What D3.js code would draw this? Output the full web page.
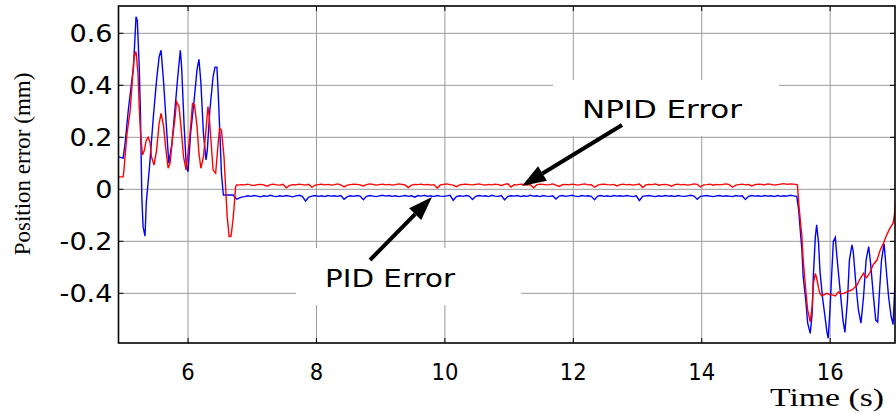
<!DOCTYPE html>
<html lang="en">
<head>
<meta charset="UTF-8">
<title>Position error: NPID vs PID</title>
<script src="https://d3js.org/d3.v7.min.js"></script>
<style>
  body { margin: 0; background: #fff; }
  svg { display: block; }
</style>
</head>
<body>
<svg id="chart" width="896" height="413"></svg>
<script>
// ---- data (time in s, error in mm) ----
const xTicks = [6, 8, 10, 12, 14, 16];
const yTicks = [-0.4, -0.2, 0, 0.2, 0.4, 0.6];

// transient at the start
const npidStart = [[4.92,0.048],[4.99,0.048],[5.00,0.07],[5.05,0.215],[5.10,0.305],[5.13,0.41],[5.16,0.51],[5.19,0.53],[5.22,0.446],[5.24,0.318],[5.26,0.215],[5.29,0.132],[5.32,0.15],[5.35,0.19],[5.38,0.2],[5.41,0.178],[5.43,0.125],[5.47,0.093],[5.51,0.15],[5.55,0.254],[5.58,0.292],[5.62,0.241],[5.65,0.164],[5.69,0.081],[5.72,0.10],[5.76,0.2],[5.80,0.28],[5.82,0.337],[5.86,0.318],[5.89,0.241],[5.93,0.125],[5.97,0.074],[6.00,0.138],[6.04,0.241],[6.07,0.33],[6.10,0.325],[6.14,0.241],[6.17,0.138],[6.20,0.081],[6.24,0.125],[6.28,0.228],[6.31,0.318],[6.33,0.28],[6.36,0.178],[6.39,0.074],[6.43,0.062],[6.46,0.15],[6.49,0.235],[6.52,0.228],[6.56,0.125],[6.59,-0.015],[6.61,-0.105],[6.64,-0.182],[6.67,-0.18],[6.70,-0.118],[6.72,-0.06],[6.74,0.01],[6.76,0.017]];
const pidStart = [[4.92,0.125],[4.99,0.12],[5.02,0.178],[5.07,0.305],[5.12,0.41],[5.15,0.47],[5.19,0.664],[5.21,0.65],[5.24,0.47],[5.26,0.28],[5.28,-0.03],[5.30,-0.145],[5.33,-0.18],[5.35,-0.05],[5.40,0.087],[5.46,0.28],[5.51,0.42],[5.55,0.51],[5.58,0.535],[5.62,0.41],[5.67,0.215],[5.70,0.10],[5.75,0.178],[5.80,0.318],[5.84,0.433],[5.88,0.535],[5.90,0.47],[5.94,0.24],[5.97,0.10],[6.00,0.068],[6.04,0.215],[6.10,0.356],[6.14,0.46],[6.17,0.50],[6.20,0.41],[6.24,0.215],[6.28,0.113],[6.30,0.15],[6.34,0.305],[6.39,0.433],[6.42,0.47],[6.45,0.47],[6.47,0.37],[6.50,0.19],[6.52,0.062],[6.55,-0.022],[6.60,-0.022],[6.70,-0.022],[6.76,-0.038]];

// steady part, sampled every 0.05 s from 6.78 s to 15.48 s
const flatT0 = 6.78, flatDt = 0.05;
const npidFlat = [
  0.016,0.018,0.017,0.020,0.016,0.015,0.018,0.019,0.017,0.012,0.018,0.020,0.017,0.016,0.019,
  0.006,0.015,0.018,0.017,0.020,0.018,0.016,0.019,0.008,0.016,0.018,0.020,0.017,0.019,0.016,
  0.018,0.021,0.017,0.009,0.016,0.018,0.020,0.019,0.017,0.013,0.018,0.021,0.019,0.016,0.018,
  0.020,0.017,0.019,0.016,0.018,0.021,0.019,0.017,0.007,0.016,0.019,0.018,0.020,0.017,0.019,
  0.016,0.018,0.005,0.017,0.019,0.021,0.018,0.016,0.010,0.017,0.019,0.020,0.018,0.017,0.019,
  0.021,0.018,0.016,0.019,0.017,0.020,0.018,0.015,0.019,0.021,0.009,0.018,0.017,0.020,0.019,
  0.016,0.018,0.006,0.017,0.020,0.019,0.017,0.018,0.021,0.016,0.011,0.018,0.019,0.017,0.020,
  0.018,0.016,0.019,0.021,0.017,0.018,0.008,0.016,0.019,0.020,0.018,0.017,0.019,0.013,0.018,
  0.020,0.017,0.019,0.016,0.018,0.020,0.007,0.017,0.019,0.018,0.021,0.016,0.018,0.019,0.017,
  0.012,0.018,0.020,0.017,0.019,0.016,0.018,0.021,0.019,0.009,0.017,0.018,0.020,0.016,0.019,
  0.017,0.019,0.021,0.018,0.008,0.016,0.018,0.020,0.017,0.019,0.013,0.018,0.020,0.019,0.017,
  0.021,0.019,0.016,0.018,0.020,0.022,0.019,0.021,0.020,0.018];
const pidFlat = [
  -0.036,-0.030,-0.028,-0.025,-0.027,-0.024,-0.026,-0.029,-0.025,-0.027,-0.023,-0.026,-0.028,-0.025,-0.027,
  -0.024,-0.026,-0.029,-0.025,-0.023,-0.027,-0.045,-0.030,-0.026,-0.024,-0.027,-0.025,-0.028,-0.024,-0.026,
  -0.025,-0.027,-0.024,-0.038,-0.028,-0.025,-0.027,-0.024,-0.026,-0.040,-0.027,-0.024,-0.026,-0.028,-0.025,
  -0.023,-0.026,-0.024,-0.027,-0.025,-0.028,-0.026,-0.024,-0.027,-0.025,-0.030,-0.024,-0.026,-0.023,-0.027,
  -0.025,-0.028,-0.024,-0.026,-0.027,-0.025,-0.023,-0.042,-0.028,-0.025,-0.027,-0.024,-0.026,-0.039,-0.027,
  -0.024,-0.026,-0.025,-0.028,-0.023,-0.026,-0.027,-0.024,-0.041,-0.027,-0.025,-0.026,-0.024,-0.028,-0.025,
  -0.027,-0.023,-0.026,-0.025,-0.028,-0.024,-0.026,-0.027,-0.025,-0.037,-0.026,-0.024,-0.027,-0.025,-0.023,
  -0.026,-0.028,-0.024,-0.026,-0.025,-0.027,-0.040,-0.026,-0.024,-0.027,-0.025,-0.028,-0.024,-0.026,-0.025,
  -0.027,-0.024,-0.026,-0.028,-0.025,-0.043,-0.027,-0.025,-0.024,-0.026,-0.028,-0.025,-0.027,-0.024,-0.026,
  -0.025,-0.028,-0.024,-0.026,-0.027,-0.025,-0.023,-0.026,-0.038,-0.027,-0.025,-0.024,-0.026,-0.028,-0.025,
  -0.024,-0.027,-0.025,-0.026,-0.028,-0.024,-0.026,-0.025,-0.039,-0.027,-0.024,-0.026,-0.025,-0.027,-0.024,
  -0.026,-0.025,-0.028,-0.024,-0.027,-0.025,-0.026,-0.023,-0.025,-0.027];

// transient at the end
const npidEnd = [[15.49,0.017],[15.52,-0.08],[15.56,-0.18],[15.58,-0.27],[15.62,-0.387],[15.65,-0.465],[15.69,-0.51],[15.72,-0.45],[15.74,-0.362],[15.77,-0.323],[15.79,-0.342],[15.82,-0.38],[15.84,-0.40],[15.87,-0.41],[15.90,-0.406],[15.95,-0.40],[15.99,-0.405],[16.03,-0.406],[16.08,-0.41],[16.13,-0.395],[16.17,-0.402],[16.21,-0.40],[16.26,-0.394],[16.30,-0.39],[16.34,-0.387],[16.38,-0.378],[16.42,-0.368],[16.47,-0.342],[16.52,-0.323],[16.55,-0.335],[16.57,-0.34],[16.62,-0.32],[16.67,-0.29],[16.73,-0.272],[16.78,-0.233],[16.83,-0.208],[16.88,-0.176],[16.93,-0.15],[16.98,-0.13],[17.0,-0.10],[17.02,-0.04]];
const pidEnd = [[15.51,-0.08],[15.53,-0.144],[15.56,-0.233],[15.58,-0.336],[15.62,-0.426],[15.65,-0.515],[15.69,-0.554],[15.72,-0.477],[15.74,-0.323],[15.77,-0.182],[15.79,-0.137],[15.82,-0.208],[15.84,-0.31],[15.88,-0.413],[15.92,-0.49],[15.95,-0.548],[15.97,-0.573],[16.00,-0.45],[16.03,-0.298],[16.05,-0.2],[16.08,-0.185],[16.11,-0.272],[16.16,-0.40],[16.20,-0.503],[16.23,-0.55],[16.27,-0.426],[16.30,-0.272],[16.34,-0.214],[16.36,-0.24],[16.40,-0.362],[16.44,-0.464],[16.48,-0.515],[16.52,-0.413],[16.56,-0.272],[16.60,-0.22],[16.63,-0.285],[16.67,-0.40],[16.71,-0.503],[16.74,-0.51],[16.77,-0.387],[16.80,-0.272],[16.84,-0.21],[16.87,-0.298],[16.91,-0.413],[16.95,-0.49],[16.98,-0.52],[17.00,-0.413],[17.02,-0.33]];

const npid = npidStart.concat(npidFlat.map((v, i) => [flatT0 + i * flatDt, v]), npidEnd);
const pid = pidStart.concat(pidFlat.map((v, i) => [flatT0 + i * flatDt, v]), pidEnd);

// ---- layout ----
const svg = d3.select("#chart");
const margin = { top: 6, right: 1, bottom: 70, left: 118.5 };
const width = 896 - margin.left - margin.right,
      height = 413 - margin.top - margin.bottom;

const x = d3.scaleLinear().domain([4.917, 17.01]).range([0, width]);
const y = d3.scaleLinear().domain([-0.591, 0.705]).range([height, 0]);

const g = svg.append("g").attr("transform", `translate(${margin.left},${margin.top})`);

// grid
g.selectAll(".gx").data(xTicks).enter().append("line")
  .attr("x1", d => x(d)).attr("x2", d => x(d))
  .attr("y1", 0).attr("y2", height)
  .attr("stroke", "#9a9a9a").attr("stroke-width", 1);
g.selectAll(".gy").data(yTicks).enter().append("line")
  .attr("x1", 0).attr("x2", width)
  .attr("y1", d => y(d)).attr("y2", d => y(d))
  .attr("stroke", "#9a9a9a").attr("stroke-width", 1);

// white label boxes that hide the grid
g.append("rect").attr("x", 553 - margin.left).attr("y", 80 - margin.top)
  .attr("width", 226).attr("height", 56).attr("fill", "#fff");
g.append("rect").attr("x", 296 - margin.left).attr("y", 248 - margin.top)
  .attr("width", 225).attr("height", 57).attr("fill", "#fff");

// inward tick marks on all sides
const tl = 5;
xTicks.forEach(d => {
  g.append("line").attr("x1", x(d)).attr("x2", x(d)).attr("y1", height).attr("y2", height - tl).attr("stroke", "#000");
  g.append("line").attr("x1", x(d)).attr("x2", x(d)).attr("y1", 0).attr("y2", tl).attr("stroke", "#000");
});
yTicks.forEach(d => {
  g.append("line").attr("x1", 0).attr("x2", tl).attr("y1", y(d)).attr("y2", y(d)).attr("stroke", "#000");
  g.append("line").attr("x1", width).attr("x2", width - tl).attr("y1", y(d)).attr("y2", y(d)).attr("stroke", "#000");
});

// lines
g.append("clipPath").attr("id", "clip").append("rect")
  .attr("width", width).attr("height", height);

const line = d3.line().x(d => x(d[0])).y(d => y(d[1]));

g.append("path").datum(pid)
  .attr("clip-path", "url(#clip)")
  .attr("fill", "none").attr("stroke", "#0000ff").attr("stroke-width", 1.4)
  .attr("d", line);
g.append("path").datum(npid)
  .attr("clip-path", "url(#clip)")
  .attr("fill", "none").attr("stroke", "#ff0000").attr("stroke-width", 1.4)
  .attr("d", line);

// frame
g.append("rect").attr("width", width).attr("height", height)
  .attr("fill", "none").attr("stroke", "#000").attr("stroke-width", 1.6);

// tick labels
const fmt = d => d === 0 ? "0" : d3.format(".1f")(d).replace("\u2212", "-");
g.selectAll(".yl").data(yTicks).enter().append("text")
  .attr("transform", d => `translate(-6,${y(d)}) scale(1.13,1)`)
  .attr("text-anchor", "end").attr("dy", "0.36em")
  .style("font-family", "DejaVu Sans").style("font-size", "24px")
  .text(fmt);
g.selectAll(".xl").data(xTicks).enter().append("text")
  .attr("transform", d => `translate(${x(d)},${height + 37}) scale(0.92,1)`)
  .attr("text-anchor", "middle")
  .style("font-family", "DejaVu Sans").style("font-size", "23px")
  .text(d => d);

// axis titles
svg.append("text")
  .attr("transform", "translate(30,164) rotate(-90)")
  .attr("text-anchor", "middle")
  .style("font-family", "Liberation Serif").style("font-size", "23px")
  .text("Position error (mm)");
svg.append("text")
  .attr("x", 770).attr("y", 406)
  .attr("textLength", 114).attr("lengthAdjust", "spacingAndGlyphs")
  .style("font-family", "Liberation Serif").style("font-size", "26px")
  .text("Time (s)");

// annotations
function arrow(x1, y1, x2, y2) {
  const a = Math.atan2(y2 - y1, x2 - x1), hl = 24, hw = 8.5;
  const bx = x2 - hl * Math.cos(a), by = y2 - hl * Math.sin(a);
  svg.append("line").attr("x1", x1).attr("y1", y1).attr("x2", bx).attr("y2", by)
    .attr("stroke", "#000").attr("stroke-width", 4);
  svg.append("path")
    .attr("d", `M${x2},${y2}L${bx + hw * Math.sin(a)},${by - hw * Math.cos(a)}L${bx - hw * Math.sin(a)},${by + hw * Math.cos(a)}Z`)
    .attr("fill", "#000");
}
arrow(622, 125, 522, 186);
arrow(370, 260, 432, 197);

svg.append("text").attr("x", 582).attr("y", 118)
  .attr("textLength", 160).attr("lengthAdjust", "spacingAndGlyphs")
  .style("font-family", "DejaVu Sans").style("font-size", "25px")
  .text("NPID Error");
svg.append("text").attr("x", 325).attr("y", 287)
  .attr("textLength", 130).attr("lengthAdjust", "spacingAndGlyphs")
  .style("font-family", "DejaVu Sans").style("font-size", "25px")
  .text("PID Error");
</script>
</body>
</html>
